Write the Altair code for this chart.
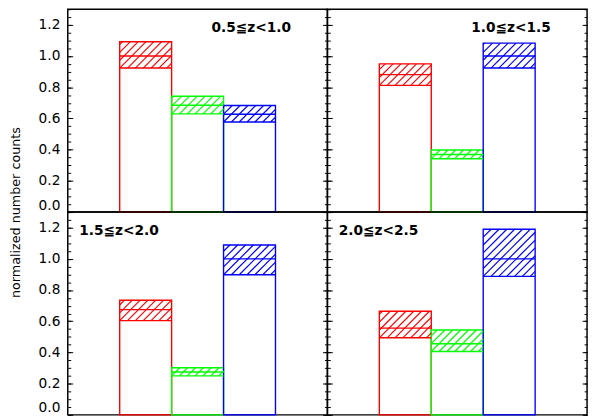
import altair as alt
import pandas as pd
import numpy as np

# ---------------- data ----------------
categories = ["red", "green", "blue"]
bar_colors = ["#ff0000", "#00ff00", "#0000ff"]
panel_labels = ["0.5≦z<1.0", "1.0≦z<1.5", "1.5≦z<2.0", "2.0≦z<2.5"]

# per panel: [red, green, blue]
mid_vals = [
    [1.00, 0.685, 0.627],
    [0.881, 0.369, 1.00],
    [0.675, 0.275, 1.00],
    [0.556, 0.456, 1.00],
]
upper_vals = [
    [1.092, 0.742, 0.683],
    [0.950, 0.398, 1.083],
    [0.735, 0.302, 1.089],
    [0.664, 0.544, 1.190],
]
lower_vals = [
    [0.923, 0.629, 0.577],
    [0.812, 0.342, 0.923],
    [0.604, 0.250, 0.898],
    [0.494, 0.406, 0.888],
]
major_ticks = [0.0, 0.2, 0.4, 0.6, 0.8, 1.0, 1.2]
minor_ticks = [round(0.05 * k, 2) for k in range(0, 27)]

# ---------------- layout ----------------
W, H = 265, 207
XMAX, YMAX = 5.0, 1.3
PXX = W / XMAX
PXY = H / YMAX
SP = 8.0  # hatch spacing in px
FONT = "DejaVu Sans"


def hatch(x0, x1, y0, y1):
    w = (x1 - x0) * PXX
    h = (y1 - y0) * PXY
    segs = []
    k0 = int(np.ceil(-h / SP))
    k1 = int(np.floor(w / SP))
    for k in range(k0, k1 + 1):
        c = k * SP
        if c >= 0:
            sx, sy = c, 0.0
        else:
            sx, sy = 0.0, -c
        if c + h <= w:
            ex, ey = c + h, h
        else:
            ex, ey = w, w - c
        if ex - sx < 0.5:
            continue
        segs.append((x0 + sx / PXX, y0 + sy / PXY, x0 + ex / PXX, y0 + ey / PXY))
    return segs


def panel(i):
    left = i % 2 == 0
    top = i < 2
    rows, hrows = [], []
    for j, cat in enumerate(categories):
        x0, x1 = j + 1, j + 2
        rows.append(dict(cat=cat, x0=x0, x1=x1, zero=0.0,
                         top=upper_vals[i][j], mid=mid_vals[i][j], low=lower_vals[i][j]))
        for (a, b, c, d) in hatch(x0, x1, lower_vals[i][j], upper_vals[i][j]):
            hrows.append(dict(cat=cat, hx0=a, hy0=b, hx1=c, hy1=d))
    df = pd.DataFrame(rows)
    hdf = pd.DataFrame(hrows)

    xs = alt.Scale(domain=[0, XMAX], nice=False, zero=False)
    ys = alt.Scale(domain=[0, YMAX], nice=False, zero=False)
    stroke = alt.Stroke("cat:N", scale=alt.Scale(domain=categories, range=bar_colors), legend=None)

    common = dict(domain=False, grid=False, tickColor="black", tickWidth=1)
    axA_kwargs = dict(orient="left", values=major_ticks, tickSize=5, offset=-5,
                      labels=left, labelFontSize=14, labelPadding=8, labelFlush=True,
                      labelColor="black", labelFont=FONT, **common)
    if i == 0:
        axA = alt.Axis(title="normalized number counts", titleY=H, titleFontSize=13,
                       titleFont=FONT, titleFontWeight="normal", titlePadding=16,
                       titleColor="black", **axA_kwargs)
    else:
        axA = alt.Axis(title=None, **axA_kwargs)
    axB = alt.Axis(orient="left", values=minor_ticks, tickSize=3, offset=-3,
                   labels=False, title=None, **common)
    axC = alt.Axis(orient="right", values=major_ticks, tickSize=5, offset=-5,
                   labels=False, title=None, **common)
    axD = alt.Axis(orient="right", values=minor_ticks, tickSize=3, offset=-3,
                   labels=False, title=None, **common)

    bars = alt.Chart(df).mark_rect(fillOpacity=0, strokeWidth=1.4).encode(
        x=alt.X("x0:Q", scale=xs, axis=None), x2="x1",
        y=alt.Y("top:Q", scale=ys, axis=axA), y2="zero",
        stroke=stroke,
    )
    hat = alt.Chart(hdf).mark_rule(strokeWidth=1.2).encode(
        x=alt.X("hx0:Q", scale=xs, axis=None), x2="hx1",
        y=alt.Y("hy0:Q", scale=ys, axis=axB), y2="hy1",
        stroke=stroke,
    )
    mids = alt.Chart(df).mark_rule(strokeWidth=1.4).encode(
        x=alt.X("x0:Q", scale=xs, axis=None), x2="x1",
        y=alt.Y("mid:Q", scale=ys, axis=axC),
        stroke=stroke,
    )
    lows = alt.Chart(df).mark_rule(strokeWidth=1.4).encode(
        x=alt.X("x0:Q", scale=xs, axis=None), x2="x1",
        y=alt.Y("low:Q", scale=ys, axis=axD),
        stroke=stroke,
    )
    lab = alt.Chart(pd.DataFrame({"label": [panel_labels[i]]})).mark_text(
        font=FONT, fontSize=14, fontWeight="bold", color="black",
        align="right" if top else "left", baseline="middle",
    ).encode(
        x=alt.XDatum(4.3 if top else 0.22, type="quantitative", scale=xs, axis=None),
        y=alt.YDatum(1.18, type="quantitative", scale=ys, axis=None),
        text="label:N",
    )
    return (alt.layer(bars, hat, lows, mids, lab)
            .properties(width=W, height=H)
            .resolve_scale(y="shared", x="shared")
            .resolve_axis(y="independent"))


chart = (alt.concat(*[panel(i) for i in range(4)], columns=2, spacing=0, bounds="flush")
         .properties(padding={"left": 0, "top": -5, "right": 1, "bottom": 1},
                     background="white")
         .configure_view(stroke="black", strokeWidth=1.5))

chart.save("out.html", embed_options={"renderer": "svg", "actions": False})
